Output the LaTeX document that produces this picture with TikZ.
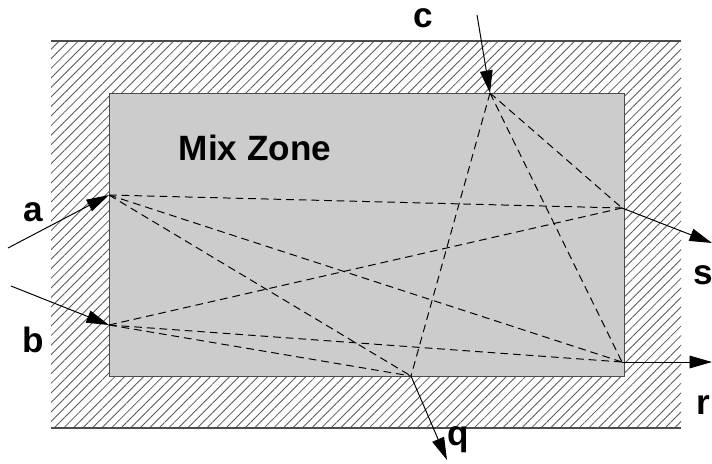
\documentclass[tikz,border=0pt]{standalone}
\usepackage{fontspec}
\setmainfont{Liberation Sans}
\usetikzlibrary{arrows.meta,patterns.meta}
\tikzset{
  lbl/.style={font=\fontsize{25}{30}\selectfont\bfseries, inner sep=0pt},
  ray/.style={dash pattern=on 5.5pt off 3.5pt, line width=0.7pt},
  flow/.style={-{Triangle[length=16pt,width=9pt]}, line width=0.7pt},
}
\begin{document}
\begin{tikzpicture}[x=0.025cm, y=-0.025cm]
    \useasboundingbox (0,0) rectangle (712,463);
    \fill[pattern={Lines[angle=45, distance=4.8pt, line width=0.6pt]}, pattern color=black!65] (51,41) rectangle (681,428);
    \draw[black!70, line width=0.8pt] (51,41) -- (681,41) (51,428) -- (681,428);
    \node[draw = black!70, fill = black!20, line width = 0.8pt, inner sep = 0pt, minimum width = 12.875cm, minimum height = 7.075cm, anchor = north west] (zone) at (109,93) {};
    \node[lbl] (mix) at (255,148) {Mix Zone};
    \coordinate (a) at (109,195);
    \coordinate (b) at (109,325);
    \coordinate (c) at (490,93);
    \coordinate (s) at (622,208);
    \coordinate (r) at (622,362);
    \coordinate (q) at (411,376);
    \coordinate (a0) at (8,248);
    \coordinate (b0) at (11,286);
    \coordinate (c0) at (477,15);
    \coordinate (s1) at (712,243);
    \coordinate (r1) at (712,362);
    \coordinate (q1) at (447,460);
    \foreach \u in {a, b, c}{
        \foreach \v in {s, r, q}{
            \draw[ray] (\u) -- (\v);
        }
    }
    \foreach \u/\v in {a0/a, b0/b, c0/c, s/s1, r/r1, q/q1}{
        \draw[flow] (\u) -- (\v);
    }
    \node[lbl] (la) at (33,212) {a};
    \node[lbl] (lb) at (33,340) {b};
    \node[lbl] (lc) at (423,18) {c};
    \node[lbl] (ls) at (703,275) {s};
    \node[lbl] (lr) at (703,405) {r};
    \node[lbl] (lq) at (458,440) {q};
\end{tikzpicture}
\end{document}
